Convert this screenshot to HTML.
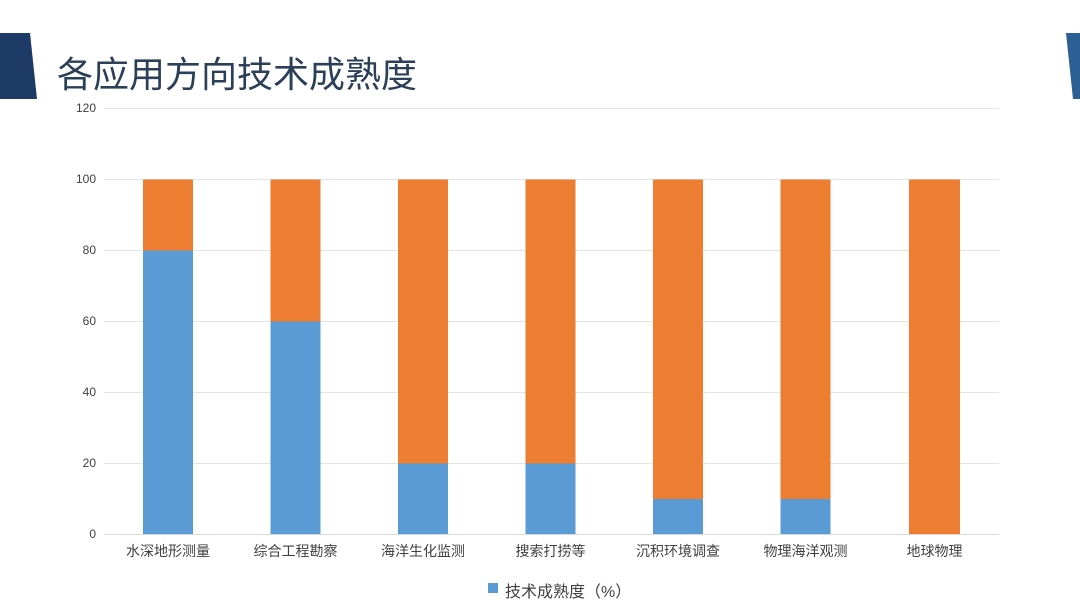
<!DOCTYPE html>
<html><head><meta charset="utf-8"><style>
html,body{margin:0;padding:0;background:#fff;}
body{width:1080px;height:608px;position:relative;overflow:hidden;font-family:"Liberation Sans","Noto Sans CJK SC",sans-serif;}
.t{position:absolute;white-space:nowrap;}
</style></head><body>
<svg width="1080" height="608" style="position:absolute;left:0;top:0">
<polygon points="0,33 30,33 37,99 0,99" fill="#1e3a66"/>
<polygon points="1066,33 1080,33 1080,99 1073,99" fill="#2c5f93"/>
<g stroke="#e3e3e3" stroke-width="1">
<line x1="104" x2="999" y1="108.5" y2="108.5"/>
<line x1="104" x2="999" y1="179.5" y2="179.5"/>
<line x1="104" x2="999" y1="250.5" y2="250.5"/>
<line x1="104" x2="999" y1="321.5" y2="321.5"/>
<line x1="104" x2="999" y1="392.5" y2="392.5"/>
<line x1="104" x2="999" y1="463.5" y2="463.5"/>
</g>
<g>
<rect x="143" y="179.5" width="50" height="71" fill="#ed7d31"/><rect x="143" y="250.5" width="50" height="284" fill="#5b9bd5"/>
<rect x="270.5" y="179.5" width="50" height="142" fill="#ed7d31"/><rect x="270.5" y="321.5" width="50" height="213" fill="#5b9bd5"/>
<rect x="398" y="179.5" width="50" height="284" fill="#ed7d31"/><rect x="398" y="463.5" width="50" height="71" fill="#5b9bd5"/>
<rect x="525.5" y="179.5" width="50" height="284" fill="#ed7d31"/><rect x="525.5" y="463.5" width="50" height="71" fill="#5b9bd5"/>
<rect x="653" y="179.5" width="50" height="319.5" fill="#ed7d31"/><rect x="653" y="499" width="50" height="35.5" fill="#5b9bd5"/>
<rect x="780.5" y="179.5" width="50" height="319.5" fill="#ed7d31"/><rect x="780.5" y="499" width="50" height="35.5" fill="#5b9bd5"/>
<rect x="909" y="179.5" width="51" height="355" fill="#ed7d31"/>
</g>
<line x1="104" x2="999" y1="534.5" y2="534.5" stroke="#d9d9d9" stroke-width="1"/>
<rect x="488" y="583" width="10" height="10" fill="#5b9bd5"/>
</svg>
<div class="t" style="left:57px;top:46px;font-size:36px;color:#2b3f58;">各应用方向技术成熟度</div>
<div style="position:absolute;left:40px;width:56px;top:0;font-size:12px;color:#404040;text-align:right;">
<div class="t" style="right:0;top:101px">120</div>
<div class="t" style="right:0;top:172px">100</div>
<div class="t" style="right:0;top:243px">80</div>
<div class="t" style="right:0;top:314px">60</div>
<div class="t" style="right:0;top:385px">40</div>
<div class="t" style="right:0;top:456px">20</div>
<div class="t" style="right:0;top:527px">0</div>
</div>
<div style="position:absolute;top:541px;left:0;width:1080px;font-size:14px;color:#404040;">
<div class="t" style="left:118px;width:100px;text-align:center">水深地形测量</div>
<div class="t" style="left:245.5px;width:100px;text-align:center">综合工程勘察</div>
<div class="t" style="left:373px;width:100px;text-align:center">海洋生化监测</div>
<div class="t" style="left:500.5px;width:100px;text-align:center">搜索打捞等</div>
<div class="t" style="left:628px;width:100px;text-align:center">沉积环境调查</div>
<div class="t" style="left:755.5px;width:100px;text-align:center">物理海洋观测</div>
<div class="t" style="left:884.5px;width:100px;text-align:center">地球物理</div>
</div>
<div class="t" style="left:505px;top:578px;font-size:16px;color:#404040;">技术成熟度（%）</div>
</body></html>
